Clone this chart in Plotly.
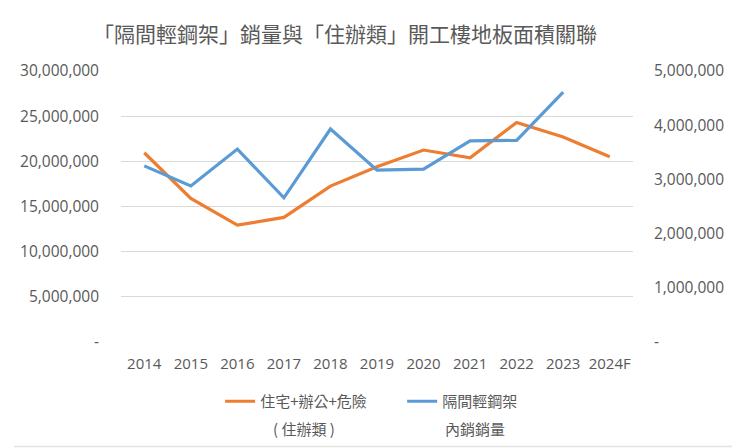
import plotly.graph_objects as go

years = ["2014", "2015", "2016", "2017", "2018", "2019", "2020", "2021", "2022", "2023", "2024F"]
floor_area = [20950000, 15900000, 12940000, 13790000, 17260000, 19400000, 21250000, 20400000, 24300000, 22700000, 20500000]
steel_sales = [3250000, 2880000, 3560000, 2660000, 3930000, 3170000, 3190000, 3710000, 3720000, 4610000, None]

left_ticks = [0, 5000000, 10000000, 15000000, 20000000, 25000000, 30000000]
left_labels = ["-", "5,000,000", "10,000,000", "15,000,000", "20,000,000", "25,000,000", "30,000,000"]
right_ticks = [0, 1000000, 2000000, 3000000, 4000000, 5000000]
right_labels = ["-", "1,000,000", "2,000,000", "3,000,000", "4,000,000", "5,000,000"]

name_orange = "住宅+辦公+危險"
name_orange2 = "( 住辦類 )"
name_blue = "隔間輕鋼架"
name_blue2 = "內銷銷量"
title = "「隔間輕鋼架」銷量與「住辦類」開工樓地板面積關聯"

FONT = "Open Sans, Noto Sans CJK TC, sans-serif"
CJK = "Noto Sans CJK TC, sans-serif"
GRAY = "#595959"

# page has an 8px body margin; work in page coordinates and convert
OFF = 8
W, H = 740 - OFF, 448 - OFF
L = 116 - OFF
T = 71 - OFF
R = 740 - 633
B = H - (341.7 - OFF)
pw, ph = W - L - R, H - T - B


def fx(px):  # page x -> figure-container fraction
    return (px - OFF) / W


def fy(py):  # page y -> figure-container fraction (from bottom)
    return 1 - (py - OFF) / H


def px_x(px):  # page x -> paper fraction
    return (px - 116) / pw


def px_y(py):  # page y -> paper fraction
    return (341.7 - py) / ph


fig = go.Figure()
fig.add_trace(go.Scatter(x=years, y=floor_area, name=name_orange, mode="lines",
                         line=dict(color="#ED7D31", width=3.2), yaxis="y"))
fig.add_trace(go.Scatter(x=years, y=steel_sales, name=name_blue, mode="lines",
                         line=dict(color="#5B9BD5", width=3.2), yaxis="y2"))

fig.update_layout(
    width=W, height=H,
    margin=dict(l=L, r=R, t=T, b=B),
    paper_bgcolor="white", plot_bgcolor="white",
    font=dict(family=FONT, size=15, color=GRAY),
    title=dict(text=title, x=fx(345), xanchor="center", y=fy(35), yanchor="middle",
               font=dict(size=21, color=GRAY, family=CJK)),
    xaxis=dict(type="category", range=[-0.5, len(years) - 0.5], showgrid=False,
               showline=False, zeroline=False, ticks="",
               tickfont=dict(size=15, color=GRAY), ticklabelstandoff=11),
    yaxis=dict(range=[0, 30000000], tickvals=left_ticks, ticktext=left_labels,
               showgrid=True, gridcolor="#d9d9d9", gridwidth=1, zeroline=False,
               showline=False, ticks="", ticklabelstandoff=21,
               tickfont=dict(size=15.5, color=GRAY)),
    yaxis2=dict(range=[0, 5000000], tickvals=right_ticks, ticktext=right_labels,
                overlaying="y", side="right", showgrid=False, zeroline=False,
                showline=False, ticks="", ticklabelstandoff=20,
                tickfont=dict(size=15.5, color=GRAY)),
    showlegend=True,
    legend=dict(orientation="h", x=fx(226) - 0.008, xref="container", xanchor="left",
                y=fy(385), yref="container", yanchor="top", entrywidth=137,
                font=dict(size=15, color=GRAY, family=CJK),
                tracegroupgap=0, bgcolor="rgba(0,0,0,0)"),
    annotations=[
        dict(text=name_orange2, xref="paper", yref="paper", x=px_x(267), xanchor="left",
             y=px_y(428), yanchor="middle", showarrow=False,
             font=dict(size=15, color=GRAY, family=CJK)),
        dict(text=name_blue2, xref="paper", yref="paper", x=px_x(441), xanchor="left",
             y=px_y(428), yanchor="middle", showarrow=False,
             font=dict(size=15, color=GRAY, family=CJK)),
    ],
    shapes=[
        dict(type="line", xref="paper", yref="paper", x0=px_x(739), x1=px_x(739),
             y0=px_y(447), y1=px_y(8), line=dict(color="#e4e4e4", width=1.5)),
        dict(type="line", xref="paper", yref="paper", x0=px_x(8), x1=px_x(740),
             y0=px_y(446), y1=px_y(446), line=dict(color="#e4e4e4", width=1.5)),
    ],
)

fig.write_html("out.html")
